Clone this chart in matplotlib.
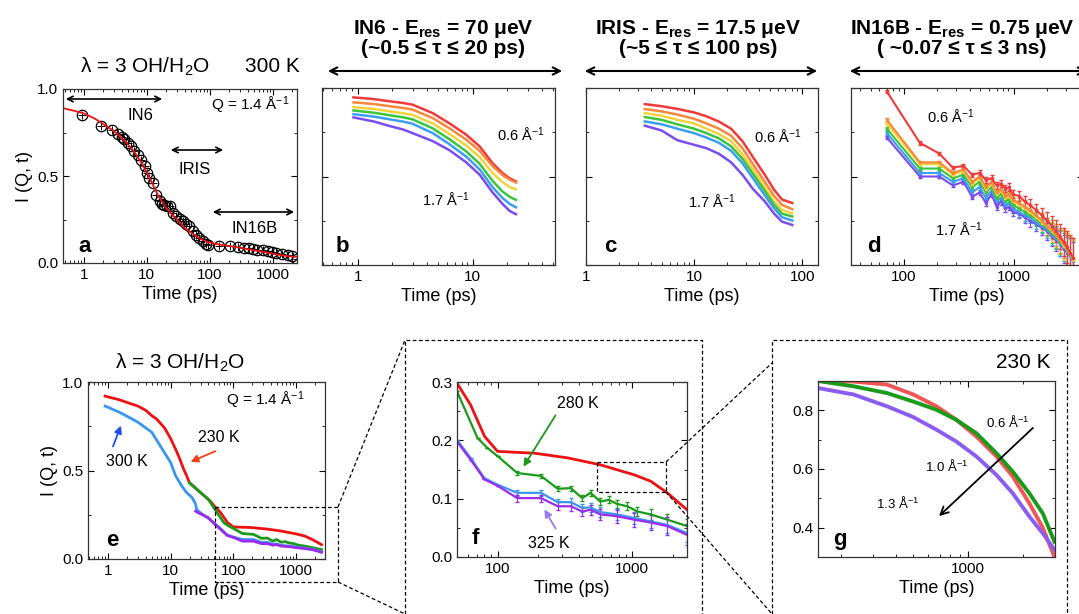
import numpy as np
import matplotlib.pyplot as plt
from matplotlib.lines import Line2D
from matplotlib.patches import FancyArrowPatch
from matplotlib.ticker import NullFormatter

plt.rcParams['font.family'] = ['Liberation Sans', 'DejaVu Sans']
plt.rcParams['mathtext.fontset'] = 'custom'
plt.rcParams['mathtext.rm'] = 'Liberation Sans'
plt.rcParams['mathtext.it'] = 'Liberation Sans:italic'
plt.rcParams['mathtext.bf'] = 'Liberation Sans:bold'
plt.rcParams['mathtext.default'] = 'regular'

# ---- panel a: 300 K, Q = 1.4 (data + fit)
a_t = [0.93, 1.85, 2.8, 3.5, 4.0, 4.4, 5.0, 5.6, 6.3, 7.2, 8.2, 9.2, 10, 11, 12.5, 14, 16,
       17.5, 19, 21, 23, 26, 29, 33, 37, 42, 47, 53, 60, 68, 78, 87, 93,
       140, 210, 280, 350, 420, 490, 560, 700, 840, 980, 1120, 1400, 1700, 2000, 2400]
a_val = [0.852, 0.79, 0.766, 0.74, 0.725, 0.71, 0.69, 0.67, 0.645, 0.62, 0.59, 0.56, 0.517, 0.49,
         0.46, 0.39, 0.354, 0.34, 0.335, 0.33, 0.325, 0.29, 0.27, 0.255, 0.24, 0.225, 0.21, 0.185,
         0.163, 0.145, 0.125, 0.112, 0.105,
         0.10, 0.098, 0.092, 0.088, 0.085, 0.08, 0.077, 0.072, 0.068, 0.063, 0.06, 0.05, 0.045, 0.038, 0.025]
fit_t = [0.47, 0.7, 1, 1.5, 2, 3, 4.5, 6, 8, 10, 12.5, 15, 20, 25, 32, 40, 55, 70, 90, 120, 200,
         300, 500, 800, 1200, 1600, 2000, 2400]
fit_val = [0.89, 0.875, 0.86, 0.83, 0.80, 0.76, 0.70, 0.65, 0.585, 0.52, 0.45, 0.39, 0.32, 0.28,
           0.24, 0.20, 0.165, 0.14, 0.122, 0.11, 0.098, 0.088, 0.073, 0.06, 0.048, 0.041, 0.037, 0.035]

rainbow = ['#f03a3a', '#f5883a', '#f2d23c', '#3cc43c', '#3c9ef0', '#7a4cf0']

# ---- panel b: IN6
b_t = [0.92, 1.4, 1.9, 2.5, 3, 4.5, 6.3, 8.8, 11.5, 14.9, 18.2, 21, 23.8]
b_q06 = [0.947, 0.937, 0.925, 0.915, 0.906, 0.858, 0.80, 0.736, 0.67, 0.575, 0.519, 0.49, 0.472]
b_q08 = [0.919, 0.909, 0.897, 0.887, 0.878, 0.83, 0.772, 0.708, 0.645, 0.558, 0.508, 0.482, 0.466]
b_q10 = [0.892, 0.881, 0.868, 0.857, 0.848, 0.80, 0.74, 0.675, 0.61, 0.52, 0.468, 0.44, 0.428]
b_q12 = [0.873, 0.86, 0.846, 0.834, 0.823, 0.772, 0.71, 0.642, 0.572, 0.475, 0.415, 0.385, 0.368]
b_q14 = [0.852, 0.838, 0.823, 0.81, 0.798, 0.745, 0.682, 0.612, 0.54, 0.44, 0.378, 0.345, 0.326]
b_q17 = [0.834, 0.81, 0.785, 0.765, 0.745, 0.70, 0.648, 0.58, 0.51, 0.41, 0.345, 0.305, 0.287]

# ---- panel c: IRIS
c_t = [3.5, 5, 7, 10, 13, 17, 22, 28, 35, 45, 55, 65, 81]
c_q06 = [0.909, 0.897, 0.882, 0.862, 0.84, 0.81, 0.77, 0.70, 0.61, 0.51, 0.425, 0.37, 0.35]
c_q08 = [0.881, 0.868, 0.85, 0.826, 0.80, 0.77, 0.73, 0.66, 0.57, 0.47, 0.39, 0.34, 0.315]
c_q10 = [0.858, 0.843, 0.82, 0.80, 0.77, 0.74, 0.70, 0.625, 0.54, 0.44, 0.36, 0.31, 0.292]
c_q12 = [0.836, 0.82, 0.795, 0.77, 0.745, 0.715, 0.67, 0.60, 0.515, 0.42, 0.34, 0.29, 0.274]
c_q14 = [0.811, 0.795, 0.77, 0.745, 0.72, 0.69, 0.645, 0.575, 0.49, 0.395, 0.32, 0.27, 0.251]
c_q17 = [0.787, 0.76, 0.705, 0.679, 0.66, 0.628, 0.58, 0.51, 0.43, 0.36, 0.29, 0.245, 0.226]

# ---- panel d: IN16B
d_t = [70, 140, 210, 280, 350, 420, 490, 560, 630, 700, 770, 840, 910, 980, 1120, 1260, 1400,
       1610, 1820, 2030, 2240, 2450, 2660, 2870, 3080, 3290, 3500]
d_q06 = [0.98, 0.69, 0.63, 0.55, 0.56, 0.51, 0.52, 0.48, 0.49, 0.45, 0.46, 0.43, 0.44, 0.40, 0.39,
         0.36, 0.34, 0.31, 0.28, 0.25, 0.22, 0.19, 0.16, 0.13, 0.10, 0.07, 0.04]
d_q08 = [0.82, 0.58, 0.58, 0.52, 0.54, 0.47, 0.50, 0.44, 0.47, 0.41, 0.43, 0.39, 0.40, 0.37, 0.35,
         0.33, 0.31, 0.28, 0.25, 0.22, 0.20, 0.17, 0.14, 0.12, 0.09, 0.06, 0.04]
d_q10 = [0.80, 0.57, 0.57, 0.51, 0.53, 0.46, 0.49, 0.43, 0.46, 0.40, 0.42, 0.38, 0.39, 0.36, 0.34,
         0.32, 0.30, 0.27, 0.24, 0.22, 0.19, 0.17, 0.14, 0.11, 0.09, 0.06, 0.03]
d_q12 = [0.77, 0.545, 0.545, 0.49, 0.51, 0.44, 0.47, 0.41, 0.44, 0.38, 0.40, 0.36, 0.37, 0.34, 0.32,
         0.30, 0.28, 0.26, 0.23, 0.21, 0.18, 0.16, 0.13, 0.11, 0.08, 0.06, 0.03]
d_q14 = [0.745, 0.52, 0.52, 0.47, 0.49, 0.41, 0.44, 0.38, 0.42, 0.36, 0.38, 0.34, 0.35, 0.32, 0.30,
         0.28, 0.27, 0.24, 0.22, 0.20, 0.17, 0.15, 0.12, 0.10, 0.08, 0.05, 0.03]
d_q17 = [0.72, 0.50, 0.50, 0.45, 0.47, 0.385, 0.41, 0.35, 0.40, 0.33, 0.36, 0.32, 0.33, 0.30, 0.29,
         0.27, 0.25, 0.23, 0.21, 0.19, 0.16, 0.14, 0.12, 0.09, 0.07, 0.05, 0.02]
d_err = [0.01, 0.01, 0.01, 0.01, 0.012, 0.012, 0.014, 0.015, 0.016, 0.018, 0.02, 0.02, 0.022, 0.024,
         0.026, 0.03, 0.033, 0.037, 0.042, 0.048, 0.055, 0.062, 0.07, 0.08, 0.09, 0.1, 0.11]

# ---- panels e/f: Q = 1.4, different temperatures
t230 = [0.9, 1.5, 2, 3, 4, 5, 6, 8, 10, 12, 14, 16, 18, 20, 25, 30, 35, 40, 45, 50, 63, 80, 100,
        187, 330, 580, 1030, 1370, 1820, 2550]
v230 = [0.92, 0.90, 0.885, 0.864, 0.84, 0.81, 0.79, 0.74, 0.68, 0.62, 0.565, 0.51, 0.47, 0.43, 0.40,
        0.375, 0.355, 0.337, 0.318, 0.298, 0.261, 0.207, 0.181, 0.178, 0.17, 0.158, 0.141, 0.13, 0.11, 0.081]
t280 = [20, 25, 30, 40, 50, 71, 84, 100, 140, 210, 280, 350, 425, 490, 580, 670, 770, 920, 1090,
        1370, 1820, 2550]
v280 = [0.43, 0.40, 0.375, 0.337, 0.284, 0.204, 0.187, 0.173, 0.144, 0.139, 0.117, 0.118, 0.101,
        0.11, 0.095, 0.098, 0.091, 0.087, 0.078, 0.073, 0.064, 0.053]
e280 = [0, 0, 0, 0, 0, 0, 0, 0, 0.003, 0.003, 0.004, 0.004, 0.005, 0.005, 0.006, 0.006, 0.007,
        0.007, 0.008, 0.009, 0.01, 0.012]
t300 = [0.9, 1.5, 2, 3, 5, 8, 10, 12, 15, 18, 22, 25, 26, 30, 40, 50, 63, 80, 100, 140, 210, 280,
        350, 425, 490, 580, 770, 1030, 1370, 1820, 2550]
v300 = [0.864, 0.83, 0.807, 0.773, 0.716, 0.60, 0.545, 0.47, 0.413, 0.375, 0.347, 0.31, 0.28, 0.26,
        0.23, 0.201, 0.17, 0.135, 0.124, 0.11, 0.11, 0.094, 0.094, 0.084, 0.085, 0.077, 0.073, 0.067,
        0.061, 0.055, 0.041]
e300 = [0, 0, 0, 0, 0, 0, 0, 0, 0, 0, 0, 0, 0, 0, 0, 0, 0, 0, 0, 0.005, 0.005, 0.006, 0.007, 0.007,
        0.008, 0.009, 0.01, 0.011, 0.012, 0.014, 0.016]
t325 = [25, 30, 40, 50, 63, 80, 100, 140, 210, 280, 350, 425, 490, 580, 770, 1030, 1370, 1820, 2550]
v325 = [0.27, 0.255, 0.233, 0.198, 0.167, 0.133, 0.122, 0.101, 0.101, 0.087, 0.087, 0.078, 0.081,
        0.073, 0.070, 0.064, 0.059, 0.053, 0.038]
e325 = [0, 0, 0, 0, 0, 0, 0, 0.006, 0.006, 0.007, 0.008, 0.008, 0.009, 0.01, 0.011, 0.012, 0.013,
        0.015, 0.018]

# ---- panel g: 230 K, three Q values
g_t = [150, 235, 358, 500, 670, 860, 1110, 1430, 1760, 2170, 2570, 2980]
g_q06 = [0.905, 0.898, 0.888, 0.854, 0.814, 0.768, 0.711, 0.643, 0.574, 0.483, 0.40, 0.30]
g_q10 = [0.90, 0.882, 0.859, 0.83, 0.802, 0.768, 0.722, 0.654, 0.591, 0.517, 0.449, 0.352]
g_q13 = [0.876, 0.854, 0.814, 0.777, 0.734, 0.694, 0.643, 0.58, 0.517, 0.438, 0.381, 0.324]

W, H = 1079, 614
fig = plt.figure(figsize=(W / 100, H / 100), dpi=100)


def px_axes(l, t, r, b):
    return fig.add_axes([l / W, 1 - b / H, (r - l) / W, (b - t) / H])


def style(ax):
    ax.set_xscale('log')
    ax.tick_params(which='both', direction='in', top=True, right=True, labelsize=11)
    ax.tick_params(which='major', length=4)
    ax.tick_params(which='minor', length=2)
    ax.xaxis.set_minor_formatter(NullFormatter())
    for s in ax.spines.values():
        s.set_linewidth(0.9)
        s.set_color('#333333')


def ftext(x, y, s, **kw):
    fig.text(x / W, 1 - y / H, s, ha=kw.pop('ha', 'center'), va=kw.pop('va', 'center'), **kw)


def fline(xs, ys):
    fig.add_artist(Line2D([x / W for x in xs], [1 - y / H for y in ys], ls=(0, (3, 2)),
                          color='k', lw=0.9))


def farrow(x0, y0, x1, y1, astyle, color='k', lw=1.2, ms=10):
    fig.add_artist(FancyArrowPatch((x0 / W, 1 - y0 / H), (x1 / W, 1 - y1 / H),
                                   transform=fig.transFigure, arrowstyle=astyle,
                                   color=color, lw=lw, mutation_scale=ms))


def yticks01(ax, labels=True):
    ax.set_ylim(0, 1.0)
    ax.set_yticks([0, 0.5, 1.0])
    ax.set_yticks([0.25, 0.75], minor=True)
    if labels:
        ax.set_yticklabels(['0.0', '0.5', '1.0'])
    else:
        ax.set_yticklabels([])


LBL = 13

# panel a
ax = px_axes(63, 89, 297, 263)
style(ax)
ax.plot(a_t, a_val, ls='none', marker='o', ms=7.5, mfc='none', mec='k', mew=0.9)
ax.plot(a_t, a_val, ls='none', marker='+', ms=6, mec='k', mew=0.7)
ax.plot(fit_t, fit_val, color='#ee1111', lw=1.3)
ax.set_xlim(0.47, 2400)
ax.set_xticks([1, 10, 100, 1000], ['1', '10', '100', '1000'])
yticks01(ax)
ax.set_xlabel('Time (ps)', fontsize=LBL, labelpad=3)
ax.set_ylabel('I (Q, t)', fontsize=LBL, labelpad=3)

# panel b
qcols_b = [b_q06, b_q08, b_q10, b_q12, b_q14, b_q17]
ax = px_axes(322, 88, 555, 265)
style(ax)
for vals, col in zip(qcols_b, rainbow):
    ax.plot(b_t, vals, color=col, lw=1.8)
ax.set_xlim(0.49, 52)
ax.set_xticks([1, 10], ['1', '10'])
yticks01(ax, labels=False)
ax.set_xlabel('Time (ps)', fontsize=LBL, labelpad=3)

# panel c
qcols_c = [c_q06, c_q08, c_q10, c_q12, c_q14, c_q17]
ax = px_axes(586, 88, 818, 265)
style(ax)
for vals, col in zip(qcols_c, rainbow):
    ax.plot(c_t, vals, color=col, lw=1.8)
ax.set_xlim(1, 140)
ax.set_xticks([1, 10, 100], ['1', '10', '100'])
yticks01(ax, labels=False)
ax.set_xlabel('Time (ps)', fontsize=LBL, labelpad=3)

# panel d
qcols_d = [d_q06, d_q08, d_q10, d_q12, d_q14, d_q17]
ax = px_axes(851, 88, 1083, 265)
style(ax)
for vals, col in list(zip(qcols_d, rainbow))[::-1]:
    ax.errorbar(d_t, vals, yerr=d_err, color=col, lw=1.5, elinewidth=0.8, capsize=1.5,
                marker='.', ms=3)
ax.set_xlim(33, 4300)
ax.set_xticks([100, 1000], ['100', '1000'])
yticks01(ax, labels=False)
ax.set_xlabel('Time (ps)', fontsize=LBL, labelpad=3)

# panel e
ax = px_axes(88, 382, 325, 559)
style(ax)
ax.plot(t230, v230, color='#ee1111', lw=2)
ax.plot(t280, v280, color='#1a9a1a', lw=2)
ax.plot(t300, v300, color='#3a96ec', lw=2)
ax.plot(t325, v325, color='#9b2bef', lw=2)
ax.set_xlim(0.48, 2900)
ax.set_xticks([1, 10, 100, 1000], ['1', '10', '100', '1000'])
yticks01(ax)
ax.set_xlabel('Time (ps)', fontsize=LBL, labelpad=3)
ax.set_ylabel('I (Q, t)', fontsize=LBL, labelpad=3)

# panel f
ax = px_axes(457, 382, 687, 557)
style(ax)
ax.plot(t230, v230, color='#ee1111', lw=2)
ax.errorbar(t280, v280, yerr=e280, color='#1a9a1a', lw=1.6, elinewidth=0.8, capsize=1.5)
ax.errorbar(t300, v300, yerr=e300, color='#3a96ec', lw=1.6, elinewidth=0.8, capsize=1.5)
ax.errorbar(t325, v325, yerr=e325, color='#9b2bef', lw=1.6, elinewidth=0.8, capsize=1.5)
ax.set_xlim(50, 2550)
ax.set_ylim(0, 0.3)
ax.set_xticks([100, 1000], ['100', '1000'])
ax.set_yticks([0, 0.1, 0.2, 0.3], ['0.0', '0.1', '0.2', '0.3'])
ax.set_yticks([0.05, 0.15, 0.25], minor=True)
ax.set_xlabel('Time (ps)', fontsize=LBL, labelpad=3)

# panel g
ax = px_axes(818, 381, 1055, 557)
style(ax)
ax.plot(g_t, g_q06, color='#f25555', lw=2.8)
ax.plot(g_t, g_q13, color='#8a5cf0', lw=2.8)
ax.plot(g_t, g_q10, color='#1a9a1a', lw=2.8)
ax.set_xlim(150, 3000)
ax.set_ylim(0.3, 0.9)
ax.set_xticks([1000], ['1000'])
ax.set_yticks([0.4, 0.6, 0.8], ['0.4', '0.6', '0.8'])
ax.set_yticks([0.5, 0.7], minor=True)
ax.set_xlabel('Time (ps)', fontsize=LBL, labelpad=3)

# ---- text & arrows, top row
ftext(145, 67, 'λ = 3 OH/H$_2$O', fontsize=15)
ftext(272, 67, '300 K', fontsize=15)
ftext(250, 105, 'Q = 1.4 Å$^{-1}$', fontsize=11)
farrow(63, 99, 165, 99, '<->', ms=10)
ftext(140, 115, 'IN6', fontsize=12)
farrow(168, 150, 226, 150, '<->', ms=10)
ftext(195, 169, 'IRIS', fontsize=12)
farrow(210, 212, 297, 212, '<->', ms=10)
ftext(255, 229, 'IN16B', fontsize=12)
ftext(85, 247, 'a', fontsize=16, fontweight='bold')

ftext(443, 38, 'IN6 - E$_{\\mathbf{res}}$ = 70 μeV\n(~0.5 ≤ τ ≤ 20 ps)', fontsize=15,
      fontweight='bold', linespacing=1.0)
ftext(698, 38, 'IRIS - E$_{\\mathbf{res}}$ = 17.5 μeV\n(~5 ≤ τ ≤ 100 ps)', fontsize=15,
      fontweight='bold', linespacing=1.0)
ftext(962, 38, 'IN16B - E$_{\\mathbf{res}}$ = 0.75 μeV\n( ~0.07 ≤ τ ≤ 3 ns)', fontsize=15,
      fontweight='bold', linespacing=1.0)
farrow(325, 71, 565, 71, '<->', lw=1.5, ms=13)
farrow(582, 71, 820, 71, '<->', lw=1.5, ms=13)
farrow(847, 71, 1090, 71, '<->', lw=1.5, ms=13)

ftext(521, 135, '0.6 Å$^{-1}$', fontsize=10.5)
ftext(446, 200, '1.7 Å$^{-1}$', fontsize=10.5)
ftext(342, 247, 'b', fontsize=16, fontweight='bold')
ftext(778, 137, '0.6 Å$^{-1}$', fontsize=10.5)
ftext(712, 202, '1.7 Å$^{-1}$', fontsize=10.5)
ftext(610, 247, 'c', fontsize=16, fontweight='bold')
ftext(951, 117, '0.6 Å$^{-1}$', fontsize=10.5)
ftext(959, 230, '1.7 Å$^{-1}$', fontsize=10.5)
ftext(874, 247, 'd', fontsize=16, fontweight='bold')

# ---- bottom row
ftext(180, 363, 'λ = 3 OH/H$_2$O', fontsize=15)
ftext(265, 400, 'Q = 1.4 Å$^{-1}$', fontsize=11)
ftext(127, 461, '300 K', fontsize=11.5)
farrow(112, 449, 122, 423, '-|>', color='#1e4ef0', lw=1.3, ms=11)
ftext(219, 438, '230 K', fontsize=11.5)
farrow(218, 450, 188, 463, '-|>', color='#f0401a', lw=1.3, ms=11)
ftext(112, 540, 'e', fontsize=16, fontweight='bold')

ftext(578, 404, '280 K', fontsize=11.5)
farrow(557, 413, 522, 469, '-|>', color='#1a9a1a', lw=1.3, ms=11)
ftext(549, 543, '325 K', fontsize=11.5)
farrow(557, 531, 543, 507, '-|>', color='#9a7af0', lw=1.3, ms=11)
ftext(475, 538, 'f', fontsize=16, fontweight='bold')

ftext(1023, 363, '230 K', fontsize=15)
ftext(1008, 422, '0.6 Å$^{-1}$', fontsize=9.5)
ftext(947, 466, '1.0 Å$^{-1}$', fontsize=9.5)
ftext(898, 503, '1.3 Å$^{-1}$', fontsize=9.5)
farrow(1035, 426, 937, 518, '->', lw=1.3, ms=14)
ftext(840, 540, 'g', fontsize=16, fontweight='bold')

# zoom boxes and connectors
fline([215, 338, 338, 215, 215], [507, 507, 582, 582, 507])
fline([338, 405], [507, 340])
fline([338, 405], [582, 614])
fline([405, 405, 702, 702], [614, 340, 340, 614])
fline([597, 666, 666, 597, 597], [462, 462, 492, 492, 462])
fline([666, 772], [462, 363])
fline([666, 772], [492, 614])
fline([772, 772, 1067, 1067], [614, 340, 340, 614])

fig.savefig('out.png', dpi=100)
